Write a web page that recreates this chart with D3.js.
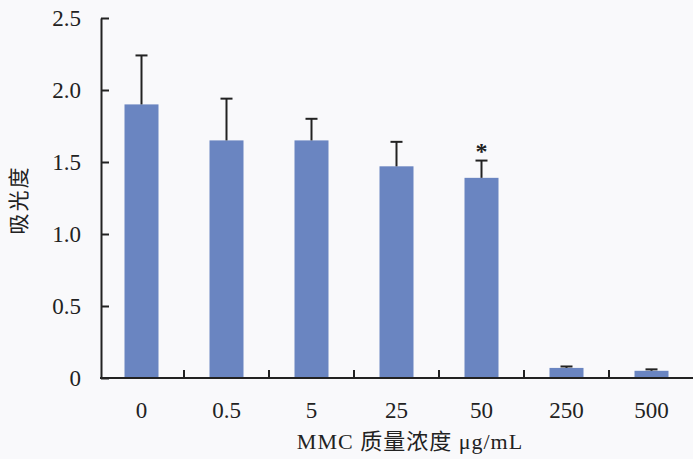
<!DOCTYPE html>
<html>
<head>
<meta charset="utf-8">
<script src="https://cdn.jsdelivr.net/npm/d3@7"></script>
<style>
  body { margin: 0; background: #f9f9fb; }
  svg text { font-family: "Liberation Serif", "Times New Roman", "DejaVu Serif", "Noto Sans CJK SC", serif; fill: #222; }
</style>
</head>
<body>
<script>
// data
var doses = ["0", "0.5", "5", "25", "50", "250", "500"];
var means = [1.90, 1.65, 1.65, 1.47, 1.39, 0.07, 0.05];
var errs = [0.34, 0.29, 0.15, 0.17, 0.12, 0.01, 0.01];
var marks = ["", "", "", "", "*", "", ""];
var yTicks = [0, 0.5, 1.0, 1.5, 2.0, 2.5];

var width = 693, height = 459;
var svg = d3.select("body").append("svg").attr("width", width).attr("height", height);

var x = d3.scaleBand().domain(doses).range([99, 694]).paddingInner(0.6).paddingOuter(0.3);
var y = d3.scaleLinear().domain([0, 2.5]).range([378, 18]);
var step = x.step();

var barColor = "#6a85c1";

// bars
svg.selectAll("rect.bar").data(doses).enter().append("rect")
    .attr("class", "bar")
    .attr("x", function (d) { return x(d) })
    .attr("width", x.bandwidth())
    .attr("y", function (d, i) { return y(means[i]) })
    .attr("height", function (d, i) { return y(0) - y(means[i]) })
    .attr("fill", barColor);

// error bars
var eb = svg.selectAll("g.err").data(doses).enter().append("g").attr("class", "err");
eb.append("line")
    .attr("x1", function (d) { return x(d) + x.bandwidth() / 2 })
    .attr("x2", function (d) { return x(d) + x.bandwidth() / 2 })
    .attr("y1", function (d, i) { return y(means[i]) })
    .attr("y2", function (d, i) { return y(means[i] + errs[i]) })
    .attr("stroke", "#222").attr("stroke-width", 2);
eb.append("line")
    .attr("x1", function (d) { return x(d) + x.bandwidth() / 2 - 6 })
    .attr("x2", function (d) { return x(d) + x.bandwidth() / 2 + 6 })
    .attr("y1", function (d, i) { return y(means[i] + errs[i]) })
    .attr("y2", function (d, i) { return y(means[i] + errs[i]) })
    .attr("stroke", "#222").attr("stroke-width", 2);

// significance marks
svg.selectAll("text.mark").data(doses).enter().append("text")
    .attr("class", "mark")
    .attr("x", function (d) { return x(d) + x.bandwidth() / 2 })
    .attr("y", function (d, i) { return y(means[i] + errs[i]) - 2 })
    .attr("text-anchor", "middle")
    .attr("font-size", 24)
    .attr("font-weight", "bold")
    .text(function (d, i) { return marks[i] });

// y axis
var yAxis = d3.axisLeft(y).tickValues(yTicks).tickSizeInner(-8).tickSizeOuter(0).tickPadding(20)
    .tickFormat(function (d) { return d === 0 ? "0" : d3.format(".1f")(d) });
var gy = svg.append("g").attr("transform", "translate(101,0)").call(yAxis);
gy.attr("font-family", null);
gy.select(".domain").attr("stroke", "#222").attr("stroke-width", 2);
gy.selectAll(".tick line").attr("stroke", "#222").attr("stroke-width", 2);
gy.selectAll(".tick text").attr("font-size", 23).attr("fill", "#222");

// x axis with ticks between categories
svg.append("line").attr("x1", 100).attr("x2", 693).attr("y1", 378).attr("y2", 378)
    .attr("stroke", "#222").attr("stroke-width", 2);
svg.selectAll("line.xtick").data(doses.slice(1)).enter().append("line")
    .attr("class", "xtick")
    .attr("x1", function (d) { return x(d) - step * x.paddingInner() / 2 })
    .attr("x2", function (d) { return x(d) - step * x.paddingInner() / 2 })
    .attr("y1", 378).attr("y2", 370)
    .attr("stroke", "#222").attr("stroke-width", 2);
svg.selectAll("text.xlab").data(doses).enter().append("text")
    .attr("class", "xlab")
    .attr("x", function (d) { return x(d) + x.bandwidth() / 2 })
    .attr("y", 418)
    .attr("text-anchor", "middle")
    .attr("font-size", 23)
    .text(function (d) { return d });

// axis titles
svg.append("text").attr("x", 410).attr("y", 449).attr("text-anchor", "middle")
    .attr("font-size", 22).attr("letter-spacing", 1).text("MMC 质量浓度 μg/mL");
svg.append("text").attr("transform", "translate(26,200) rotate(-90)")
    .attr("text-anchor", "middle").attr("font-size", 21).attr("letter-spacing", 2).text("吸光度");
</script>
</body>
</html>
